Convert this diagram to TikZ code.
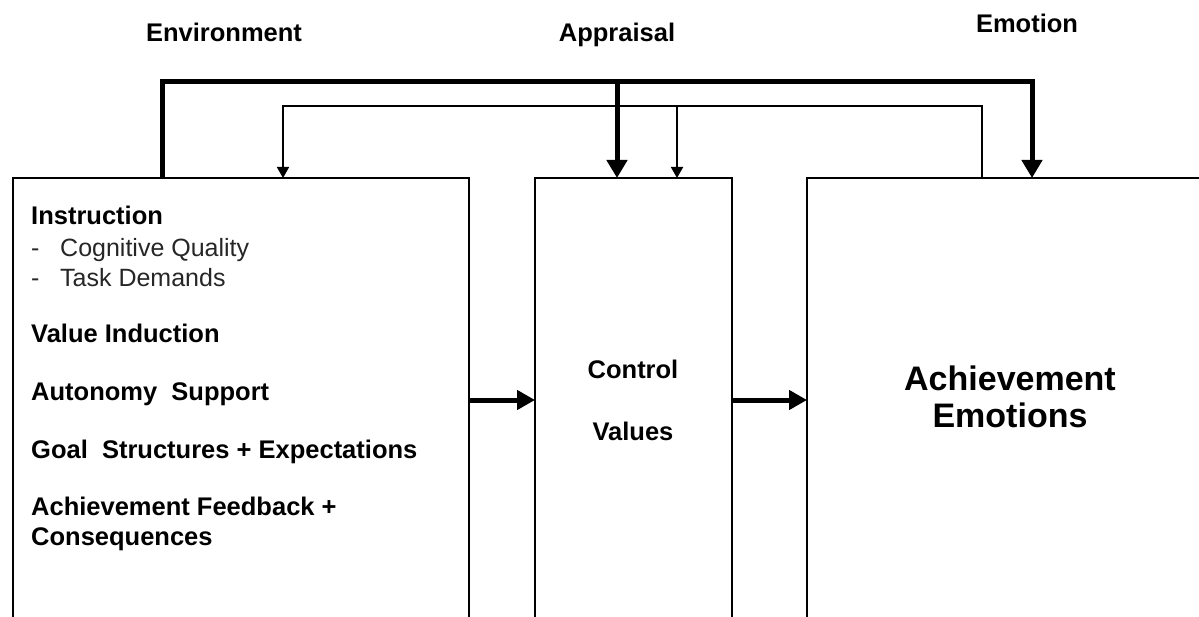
\documentclass[tikz,border=0pt]{standalone}
\usepackage{fontspec}
\setmainfont{Liberation Sans}
\usetikzlibrary{arrows.meta}
\begin{document}
\begin{tikzpicture}[x=1pt,y=-1pt,
  box/.style={draw,line width=1.8pt,outer sep=0pt,inner sep=0pt,anchor=north west,minimum height=520pt},
  hdr/.style={font=\fontsize{25.5}{30}\selectfont\bfseries,anchor=base,inner sep=0pt},
  item/.style={font=\fontsize{25.5}{30}\selectfont\bfseries,anchor=base west,inner sep=0pt},
  sub/.style={font=\fontsize{25}{30}\selectfont,anchor=base west,inner sep=0pt,text=black!85},
  big/.style={font=\fontsize{34}{40}\selectfont\bfseries,anchor=base,inner sep=0pt},
  heavy/.style={line width=5pt,line join=miter},
  light/.style={line width=1.8pt,line join=miter},
  bigtip/.style={-{Triangle[length=18pt,width=20pt]}},
  smalltip/.style={-{Triangle[length=11pt,width=12pt]}}]
\useasboundingbox (0,0) rectangle (1199,617);
\clip (0,0) rectangle (1199,617);
% headers
\node[hdr] (hEnv) at (224,42) {Environment};
\node[hdr] (hApp) at (617,42) {Appraisal};
\node[hdr] (hEmo) at (1027,33) {Emotion};
% boxes
\node[box,minimum width=456pt] (env) at (13,178) {};
\node[box,minimum width=197pt] (app) at (535,178) {};
\node[box,minimum width=450pt] (emo) at (807,178) {};
% left box text
\node[item] (t1) at (31,225) {Instruction};
\node[sub] (d1) at (31,257) {-};
\node[sub] (t2) at (60,257) {Cognitive Quality};
\node[sub] (d2) at (31,287) {-};
\node[sub] (t3) at (60,287) {Task Demands};
\node[item] (t4) at (31,343) {Value Induction};
\node[item] (t5) at (31,400) {Autonomy\ \ Support};
\node[item] (t6) at (31,458) {Goal\ \ Structures + Expectations};
\node[item] (t7) at (31,515) {Achievement Feedback +};
\node[item] (t8) at (31,545) {Consequences};
% middle box text
\node[hdr] (c1) at (633,378) {Control};
\node[hdr] (c2) at (633,440) {Values};
% right box text
\node[big] (e1) at (1010,390) {Achievement};
\node[big] (e2) at (1010,427) {Emotions};
% rails
\coordinate (thickL) at (162,82);
\coordinate (thickM) at (617,82);
\coordinate (thickR) at (1032,82);
\coordinate (thinL) at (283,106);
\coordinate (thinM) at (677,106);
\coordinate (thinR) at (982,106);
\coordinate (midY) at (0,400);
\draw[heavy,bigtip] (env.north -| thickL) -- (thickL) -- (thickR) -- (emo.north -| thickR);
\draw[heavy,bigtip] (thickM) -- (app.north -| thickM);
\draw[light,smalltip] (emo.north -| thinR) -- (thinR) -- (thinL) -- (env.north -| thinL);
\draw[light,smalltip] (thinM) -- (app.north -| thinM);
\draw[heavy,-{Triangle[length=18pt,width=19pt]}] (env.east |- midY) -- (app.west |- midY);
\draw[heavy,-{Triangle[length=18pt,width=19pt]}] (app.east |- midY) -- (emo.west |- midY);
\end{tikzpicture}
\end{document}
